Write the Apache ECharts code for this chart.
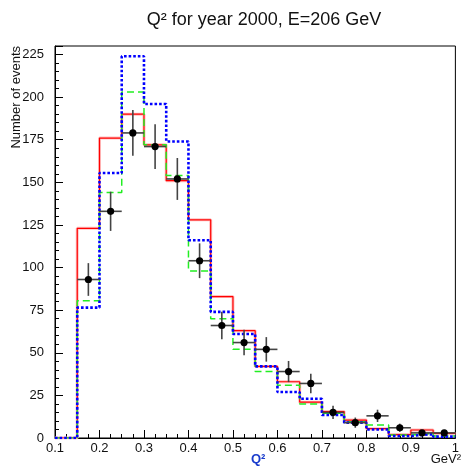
<!DOCTYPE html>
<html>
<head>
<meta charset="utf-8">
<script src="https://cdn.jsdelivr.net/npm/echarts@6/dist/echarts.min.js"></script>
<style>html,body{margin:0;padding:0;background:#fff}#c{width:462px;height:472px}</style>
</head>
<body>
<div id="c"></div>
<script>
// bin low edges (GeV^2), bin width 0.05
const binLow = [0.10,0.15,0.20,0.25,0.30,0.35,0.40,0.45,0.50,0.55,0.60,0.65,0.70,0.75,0.80,0.85,0.90,0.95];
const binWidth = 0.05;
const redVals   = [0,123,176,190,172,151,128,83,63,42,33,21,15.5,10.5,5.5,2,4.7,2.7];
const greenVals = [0,80.5,144,203,172,154,98,70,52,39,31,20,14.5,9.6,7.6,1.8,2.7,1.2];
const blueVals  = [0,76.5,155.5,224,196,174,116,74,61,42,27,23,13.5,9,5,1.2,2.3,0.8];
// data points: bin centres, counts, errors
const dataX   = [0.175,0.225,0.275,0.325,0.375,0.425,0.475,0.525,0.575,0.625,0.675,0.725,0.775,0.825,0.875,0.925,0.975];
const dataY   = [93,133,179,171,152,104,66,56,52,39,32,15,9,13,6,3,3];
const dataErr = [9.6,11.5,13.4,13.1,12.3,10.2,8.1,7.5,7.2,6.2,5.7,3.9,3,3.6,2.4,1.7,1.7];
const yTicks = [0,25,50,75,100,125,150,175,200,225];

function stepPoints(vals){
  const pts=[];
  for(let i=0;i<binLow.length;i++){
    pts.push([binLow[i], vals[i]]);
    pts.push([+(binLow[i]+binWidth).toFixed(3), vals[i]]);
  }
  return pts;
}
const errData = dataX.map((x,i)=>[x,dataY[i],dataErr[i]]);

const chart = echarts.init(document.getElementById('c'));
const font = 'Liberation Sans, Arial, sans-serif';
chart.setOption({
  animation:false,
  title:{text:'Q\u00B2 for year 2000, E=206 GeV', left:259, top:6, textAlign:'center',
    textStyle:{fontFamily:font,fontSize:18,fontWeight:'normal',color:'#111'}},
  grid:{left:55,right:2,top:46,bottom:34,show:true,borderColor:'#000',borderWidth:1},
  xAxis:{type:'value',min:0.1,max:1.0,interval:0.1,
    axisLine:{show:true,onZero:false,lineStyle:{color:'#000',width:1}},
    axisTick:{show:true,inside:true,length:8,lineStyle:{color:'#000'}},
    minorTick:{show:true,splitNumber:4,length:4,lineStyle:{color:'#000'}},
    splitLine:{show:false},
    axisLabel:{fontFamily:font,fontSize:13,color:'#111',margin:4,
      formatter:v=>(Math.abs(v-1)<1e-9?'1':(+v.toFixed(1)).toString())}},
  yAxis:{type:'value',min:0,max:230,interval:25,
    axisLine:{show:true,lineStyle:{color:'#000',width:1}},
    axisTick:{show:true,inside:true,length:8,lineStyle:{color:'#000'}},
    minorTick:{show:true,splitNumber:5,length:4,lineStyle:{color:'#000'}},
    splitLine:{show:false},
    axisLabel:{fontFamily:font,fontSize:13,color:'#111',margin:11,
      formatter:v=>yTicks.indexOf(v)>=0?String(v):''}},
  graphic:[
    {type:'text',left:251,top:453,style:{text:'Q\u00B2',fontFamily:font,fontSize:13,fontWeight:'bold',fill:'#1a3ccc'}},
    {type:'text',right:1,top:453,style:{text:'GeV\u00B2',fontFamily:font,fontSize:13,fill:'#111'}},
    {type:'text',left:10,top:46,rotation:Math.PI/2,style:{text:'Number of events',fontFamily:font,fontSize:13,fill:'#111'}}
  ],
  series:[
    {type:'line',data:stepPoints(redVals),symbol:'none',lineStyle:{color:'#ffc0c0',width:3},z:2},
    {type:'line',data:stepPoints(redVals),symbol:'none',lineStyle:{color:'#ff0000',width:1.2},z:3},
    {type:'line',data:stepPoints(greenVals),symbol:'none',lineStyle:{color:'#22ee22',width:1.5,type:[7,4]},z:4},
    {type:'line',data:stepPoints(blueVals),symbol:'none',lineStyle:{color:'#0000ff',width:2.6,type:[2.6,2]},z:5},
    {type:'custom',z:10,data:errData,
      renderItem:function(params,api){
        const x=api.value(0),y=api.value(1),e=api.value(2);
        const c=api.coord([x,y]);
        const l=api.coord([x-binWidth/2,y]);
        const r=api.coord([x+binWidth/2,y]);
        const t=api.coord([x,y+e]);
        const b=api.coord([x,Math.max(0,y-e)]);
        const ls={stroke:'#444',lineWidth:1.6};
        return {type:'group',children:[
          {type:'line',shape:{x1:l[0],y1:l[1],x2:r[0],y2:r[1]},style:ls},
          {type:'line',shape:{x1:t[0],y1:t[1],x2:b[0],y2:b[1]},style:ls},
          {type:'circle',shape:{cx:c[0],cy:c[1],r:3.6},style:{fill:'#000'}}
        ]};
      }}
  ]
});
</script>
</body>
</html>
